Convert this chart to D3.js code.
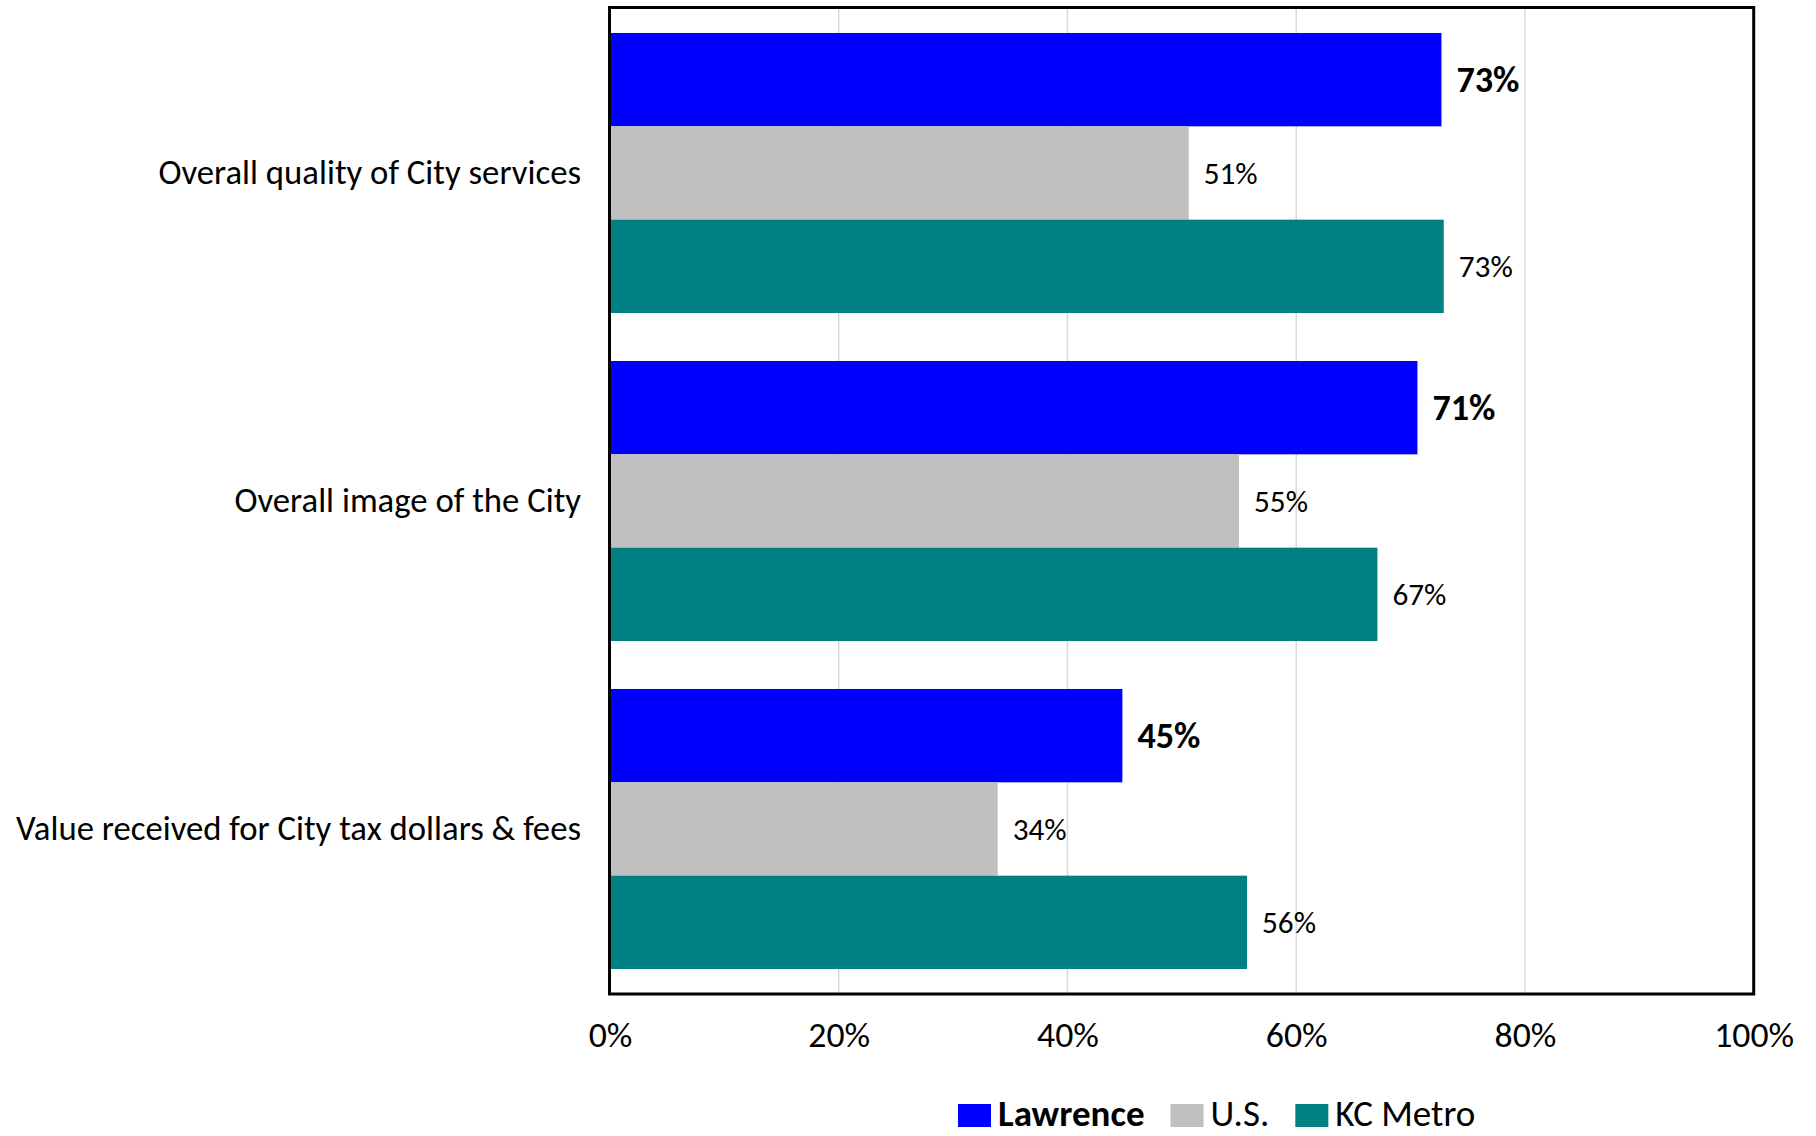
<!DOCTYPE html>
<html>
<head>
<meta charset="utf-8">
<script src="https://cdn.jsdelivr.net/npm/d3@7"></script>
<style>
  html, body { margin: 0; padding: 0; background: #fff; }
  svg { display: block; }
</style>
</head>
<body>
<svg id="chart" width="1816" height="1136"></svg>
<script>
// ---- data ----
const categories = [
  "Overall quality of City services",
  "Overall image of the City",
  "Value received for City tax dollars & fees"
];
const seriesNames = ["Lawrence", "U.S.", "KC Metro"];
const lawrence = [72.7, 70.6, 44.8];
const us = [50.6, 55.0, 33.9];
const kcMetro = [72.9, 67.1, 55.7];
const xTicks = [0, 20, 40, 60, 80, 100];
const seriesColors = ["#0000FF", "#C0C0C0", "#008080"];

const seriesValues = [lawrence, us, kcMetro];

// ---- layout ----
const FONT = "Carlito, Calibri, Lato, 'Noto Sans', sans-serif";
const svg = d3.select("#chart");
const plot = { left: 610, right: 1753.7, top: 9, bottom: 993 };

function fitSize(text, weight, target) {
  const t = svg.append("text")
    .attr("font-family", FONT).attr("font-weight", weight)
    .attr("font-size", 100).text(text);
  const w = t.node().getComputedTextLength();
  t.remove();
  return 100 * target / w;
}
const catSize = fitSize("Value received for City tax dollars & fees", "normal", 565);
const tickSize = fitSize("100%", "normal", 80);
const labelSize = fitSize("51%", "normal", 54);
const boldSize = fitSize("73%", "bold", 63);
const legendSize = fitSize("KC Metro", "normal", 140);

const x = d3.scaleLinear().domain([0, 100]).range([plot.left, plot.right]);
const y0 = d3.scaleBand().domain(categories).range([plot.top, plot.bottom]).padding(0);
const y1 = d3.scaleBand().domain(seriesNames).range([0, y0.bandwidth()])
  .paddingInner(0).paddingOuter(0.257);
const color = d3.scaleOrdinal().domain(seriesNames).range(seriesColors);

// gridlines
svg.append("g").selectAll("line")
  .data(xTicks.filter(d => d > 0 && d < 100))
  .join("line")
  .attr("x1", d => x(d)).attr("x2", d => x(d))
  .attr("y1", plot.top).attr("y2", plot.bottom)
  .attr("stroke", "#D9D9D9").attr("stroke-width", 1.5);

// bars
const rows = [];
categories.forEach((c, i) => {
  seriesNames.forEach((s, j) => {
    rows.push({ cat: c, series: s, value: seriesValues[j][i], j });
  });
});

svg.append("g").selectAll("rect")
  .data(rows)
  .join("rect")
  .attr("x", x(0))
  .attr("y", d => y0(d.cat) + y1(d.series))
  .attr("width", d => x(d.value) - x(0))
  .attr("height", y1.bandwidth())
  .attr("fill", d => color(d.series));

// data labels
svg.append("g").selectAll("text")
  .data(rows)
  .join("text")
  .attr("x", d => x(d.value) + 15)
  .attr("y", d => y0(d.cat) + y1(d.series) + y1.bandwidth() / 2)
  .attr("dy", "0.35em")
  .attr("font-family", FONT)
  .attr("font-weight", d => d.j === 0 ? "bold" : "normal")
  .attr("font-size", d => d.j === 0 ? boldSize : labelSize)
  .attr("fill", "#000")
  .text(d => Math.round(d.value) + "%");

// frame
svg.append("rect")
  .attr("x", plot.left - 0.5).attr("y", plot.top - 1.5)
  .attr("width", plot.right - plot.left + 0.5)
  .attr("height", plot.bottom - plot.top + 2.5)
  .attr("fill", "none").attr("stroke", "#000").attr("stroke-width", 3);

// x axis
const xAxis = svg.append("g")
  .attr("transform", `translate(0,${plot.bottom + 1})`)
  .call(d3.axisBottom(x).tickValues(xTicks).tickFormat(d => d + "%").tickSize(0));
xAxis.select(".domain").remove();
xAxis.selectAll("text")
  .attr("y", 53).attr("dy", "0")
  .attr("font-family", FONT).attr("font-size", tickSize).attr("fill", "#000");

// y axis (category labels)
const yAxis = svg.append("g")
  .attr("transform", `translate(${plot.left - 29},0)`)
  .call(d3.axisLeft(y0).tickSize(0).tickPadding(0));
yAxis.select(".domain").remove();
yAxis.selectAll("text")
  .attr("font-family", FONT).attr("font-size", catSize).attr("fill", "#000");

// legend
const legend = svg.append("g");
let lx = 958;
seriesNames.forEach((s, j) => {
  legend.append("rect")
    .attr("x", lx).attr("y", 1104).attr("width", 33).attr("height", 23)
    .attr("fill", color(s));
  const t = legend.append("text")
    .attr("x", lx + 40).attr("y", 1126)
    .attr("font-family", FONT)
    .attr("font-weight", j === 0 ? "bold" : "normal")
    .attr("font-size", legendSize)
    .attr("fill", "#000")
    .text(s);
  lx = lx + 40 + t.node().getComputedTextLength() + 26;
});
</script>
</body>
</html>
